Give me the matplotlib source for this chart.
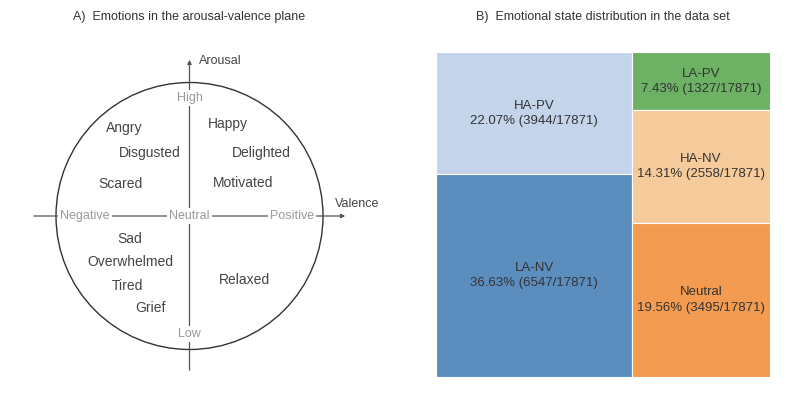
#emotions figure: arousal-valence diagram + treemap
import numpy as np
import matplotlib
matplotlib.use("Agg")
from matplotlib import pyplot as plt
from matplotlib.patches import Circle, Rectangle

plt.rcParams['font.family'] = ['Liberation Sans', 'DejaVu Sans']

#words in the plane (x, y in pixel-like units of the left panel)
words = ["Angry", "Disgusted", "Scared", "Happy", "Delighted", "Motivated",
         "Sad", "Overwhelmed", "Tired", "Grief", "Relaxed"]
word_x = [124, 150, 120, 228, 261, 243, 130, 130, 127, 150, 244]
word_y = [128, 153, 184, 124, 153, 183, 239, 262, 286, 308, 280]

#treemap data
groups = ["HA-PV", "LA-NV", "LA-PV", "HA-NV", "Neutral"]
counts = np.array([3944, 6547, 1327, 2558, 3495])
colors = ["#c3d4eb", "#5b8ebf", "#6cb164", "#f6cb9c", "#f29b51"]
column = [0, 0, 1, 1, 1]
total = counts.sum()

fig = plt.figure(figsize=(8, 4), dpi=100)

#A) diagram
ax1 = fig.add_axes([0, 0, 0.5, 1])
ax1.set_xlim(0, 400)
ax1.set_ylim(400, 0)
ax1.axis("off")
cx, cy, r = 189.5, 216, 133.5
ax1.add_patch(Circle((cx, cy), r, fill=False, ec="#333333", lw=1))
ax1.annotate("", xy=(cx, 57), xytext=(cx, 373),
             arrowprops=dict(arrowstyle="-|>", color="#555555", lw=0.9, mutation_scale=6))
ax1.annotate("", xy=(348, cy), xytext=(31, cy),
             arrowprops=dict(arrowstyle="-|>", color="#555555", lw=0.9, mutation_scale=6))
ax1.text(199, 61, "Arousal", fontsize=9, color="#444444", va="center")
ax1.text(335, 204, "Valence", fontsize=9, color="#444444", va="center")
box = dict(facecolor="white", edgecolor="none", pad=1.5)
for lbl, x, y in [("High", cx, 98), ("Low", cx, 334), ("Negative", 85, cy),
                  ("Neutral", cx, cy), ("Positive", 292, cy)]:
    ax1.text(x, y, lbl, fontsize=9, color="#999999", ha="center", va="center", bbox=box)
for w, x, y in zip(words, word_x, word_y):
    ax1.text(x, y, w, fontsize=10, color="#444444", ha="center", va="center")
ax1.text(cx, 17, "A)  Emotions in the arousal-valence plane", fontsize=9,
         color="#333333", ha="center", va="center")

#B) treemap, two columns
ax2 = fig.add_axes([436 / 800, 23 / 400, 334 / 800, 325 / 400])
ax2.set_xlim(0, 1)
ax2.set_ylim(1, 0)
ax2.axis("off")
x0 = 0
for c in [0, 1]:
    idx = [i for i in range(len(groups)) if column[i] == c]
    colsum = counts[idx].sum()
    width = colsum / total
    y0 = 0
    for i in idx:
        h = counts[i] / colsum
        ax2.add_patch(Rectangle((x0, y0), width, h, facecolor=colors[i],
                                edgecolor="white", lw=0.8))
        ax2.text(x0 + width / 2, y0 + h / 2,
                 f"{groups[i]}\n{100 * counts[i] / total:.2f}% ({counts[i]}/{total})",
                 fontsize=9.5, color="#333333", ha="center", va="center", linespacing=1.35)
        y0 += h
    x0 += width
fig.text(603 / 800, 1 - 17 / 400, "B)  Emotional state distribution in the data set",
         fontsize=9, color="#333333", ha="center", va="center")

plt.savefig("out.png", dpi=100)
